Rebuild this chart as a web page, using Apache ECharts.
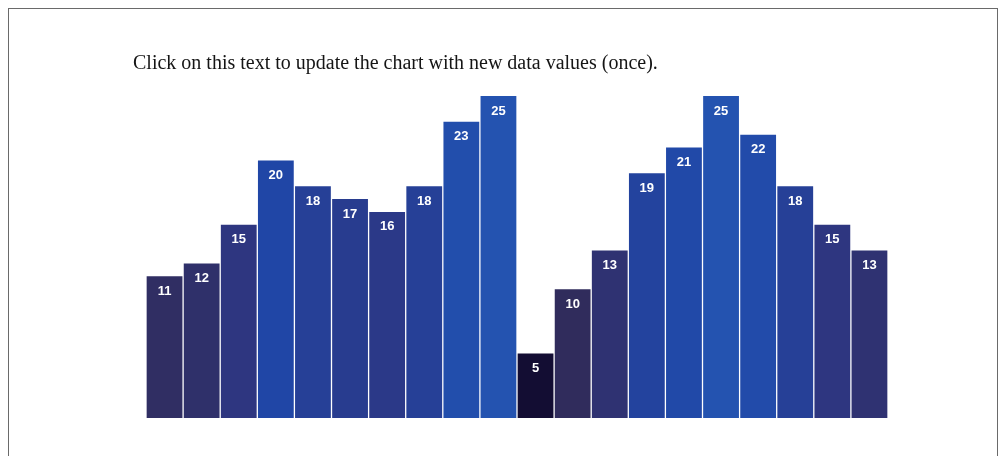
<!DOCTYPE html>
<html>
<head>
<meta charset="utf-8">
<script src="https://cdn.jsdelivr.net/npm/echarts@6/dist/echarts.min.js"></script>
<style>
html,body{margin:0;padding:0;background:#fff;overflow:hidden;}
#frame{position:absolute;left:8px;top:8px;width:990px;height:470px;border:1px solid #6a6a6a;border-bottom:none;box-sizing:border-box;}
#chart{position:absolute;left:0;top:0;width:998px;height:456px;}
</style>
</head>
<body>
<div id="frame"></div>
<div id="chart"></div>
<script>
const categories = ['1','2','3','4','5','6','7','8','9','10','11','12','13','14','15','16','17','18','19','20'];
const values = [11,12,15,20,18,17,16,18,23,25,5,10,13,19,21,25,22,18,15,13];
const titleText = 'Click on this text to update the chart with new data values (once).';

const chart = echarts.init(document.getElementById('chart'), null, {renderer:'canvas'});
chart.setOption({
  animation:false,
  backgroundColor:'transparent',
  title:{
    text:titleText,
    left:133, top:54, padding:0,
    textStyle:{fontFamily:'Liberation Serif', fontSize:20, fontWeight:'normal', color:'#151515'}
  },
  grid:{left:146, right:110, top:96, bottom:38},
  xAxis:{type:'category', data:categories, show:false},
  yAxis:{type:'value', min:0, max:25, show:false},
  visualMap:{
    show:false, type:'continuous', min:5, max:25, dimension:1,
    inRange:{color:['#130d33','#302c5c','#2e3680','#2046a6','#2453b0']}
  },
  series:[{
    type:'bar',
    data:values,
    barCategoryGap:'3.5%',
    label:{
      show:true, position:'insideTop', distance:8.5,
      color:'#fff', fontWeight:'bold', fontSize:13,
      fontFamily:'Liberation Sans'
    }
  }]
});
</script>
</body>
</html>
